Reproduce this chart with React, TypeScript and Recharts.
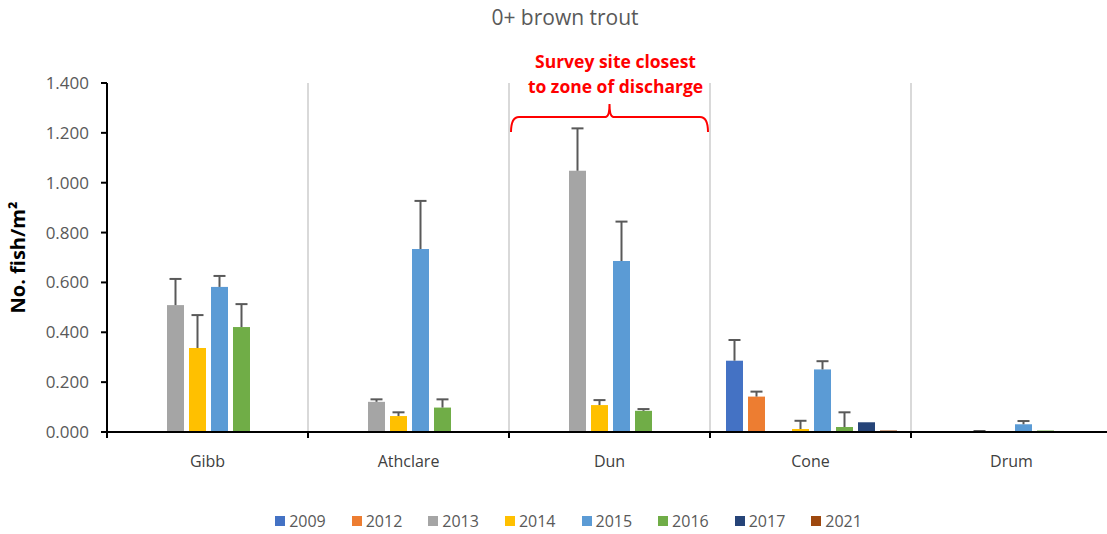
import React from 'react'
import {
  BarChart,
  Bar,
  XAxis,
  YAxis,
  ReferenceLine,
  ReferenceArea
} from 'recharts'

const sites = ['Gibb', 'Athclare', 'Dun', 'Cone', 'Drum']
const years = ['2009', '2012', '2013', '2014', '2015', '2016', '2017', '2021']
const colors = ['#4472C4', '#ED7D31', '#A5A5A5', '#FFC000', '#5B9BD5', '#70AD47', '#264478', '#9E480E']

// mean density per site, one array per survey year
const v2009 = [0, 0, 0, 0.286, 0]
const v2012 = [0, 0, 0, 0.142, 0]
const v2013 = [0.509, 0.121, 1.048, 0, 0.002]
const v2014 = [0.337, 0.064, 0.108, 0.012, 0]
const v2015 = [0.582, 0.734, 0.686, 0.251, 0.031]
const v2016 = [0.421, 0.098, 0.085, 0.02, 0.006]
const v2017 = [0, 0, 0, 0.039, 0]
const v2021 = [0, 0, 0, 0.006, 0]

// upper error (SD)
const e2009 = [0, 0, 0, 0.083, 0]
const e2012 = [0, 0, 0, 0.02, 0]
const e2013 = [0.105, 0.01, 0.17, 0, 0.002]
const e2014 = [0.132, 0.015, 0.02, 0.033, 0]
const e2015 = [0.044, 0.193, 0.158, 0.033, 0.013]
const e2016 = [0.092, 0.033, 0.007, 0.059, 0]
const e2017 = [0, 0, 0, 0, 0]
const e2021 = [0, 0, 0, 0, 0]

const yTicks = [0, 0.2, 0.4, 0.6, 0.8, 1.0, 1.2, 1.4]

const values = [v2009, v2012, v2013, v2014, v2015, v2016, v2017, v2021]
const errors = [e2009, e2012, e2013, e2014, e2015, e2016, e2017, e2021]

const data = sites.map((site, i) => {
  const row: any = { site }
  years.forEach((y, j) => {
    row[y] = values[j][i]
    row[y + '_err'] = errors[j][i]
  })
  return row
})

const FONT = '"Open Sans", "Liberation Sans", sans-serif'

const makeShape = (year: string) => (props: any) => {
  const { x, y, width, height, fill, payload, value } = props
  const v = Array.isArray(value) ? value[1] - value[0] : value
  if (!v || height <= 0) return <g />
  const err = payload[year + '_err'] || 0
  const k = height / v
  const cx = x + width / 2
  const top = y - err * k
  return (
    <g>
      <rect x={x} y={y} width={width} height={height} fill={fill} />
      {err > 0 && (
        <g stroke="#595959" strokeWidth={2}>
          <line x1={cx} y1={y} x2={cx} y2={top} />
          <line x1={cx - 6} y1={top} x2={cx + 6} y2={top} />
        </g>
      )}
    </g>
  )
}

// category label plus tick marks on the boundaries between sites
const SiteTick = (props: any) => {
  const { x, y, payload, index } = props
  const half = payload.offset || 0
  const axisY = y - 8
  return (
    <g>
      <line x1={x - half} y1={axisY} x2={x - half} y2={axisY + 6} stroke="#000" strokeWidth={2} />
      {index === sites.length - 1 && (
        <line x1={x + half} y1={axisY} x2={x + half} y2={axisY + 6} stroke="#000" strokeWidth={2} />
      )}
      <text x={x} y={y + 16} dy="0.71em" textAnchor="middle" fill="#404040" fontSize={16} fontFamily={FONT}>
        {payload.value}
      </text>
    </g>
  )
}

const Brace = (props: any) => {
  const { x: bx, y, width: bw, height } = props
  const x = bx + 2
  const width = bw - 4
  const mid = x + width / 2
  const r = 4
  const peak = height * 0.85
  const d = `M${x},${y + height} Q${x},${y} ${x + r * 2},${y} L${mid - r},${y} Q${mid},${y} ${mid},${y - peak} Q${mid},${y} ${mid + r},${y} L${x + width - r * 2},${y} Q${x + width},${y} ${x + width},${y + height}`
  return (
    <g>
      <path d={d} fill="none" stroke="#FF0000" strokeWidth={2} />
      <text x={mid + 6} y={y - 49} textAnchor="middle" fill="#FF0000" fontWeight="bold" fontSize={17.5} fontFamily={FONT}>
        Survey site closest
      </text>
      <text x={mid + 6} y={y - 24} textAnchor="middle" fill="#FF0000" fontWeight="bold" fontSize={17.5} fontFamily={FONT}>
        to zone of discharge
      </text>
    </g>
  )
}

export default function App() {
  return (
    <div style={{ position: 'absolute', left: 0, top: 0, width: 1107, height: 534, overflow: 'hidden', background: '#fff', fontFamily: FONT }}>
      <div style={{ position: 'absolute', top: 3, left: 0, width: 1130, textAlign: 'center', fontSize: 21, color: '#595959' }}>
        0+ brown trout
      </div>
      <BarChart
        width={1112}
        height={534}
        data={data}
        margin={{ top: 83, right: 0, left: 10, bottom: 72 }}
        barCategoryGap={16}
        barGap={5}
      >
        <XAxis
          dataKey="site"
          axisLine={{ stroke: '#000', strokeWidth: 2 }}
          tickLine={false}
          tickSize={6}
          tickMargin={2}
          tick={<SiteTick />}
          height={30}
        />
        <YAxis
          domain={[0, 1.4]}
          ticks={yTicks}
          tickFormatter={(v: number) => v.toFixed(3)}
          axisLine={{ stroke: '#000', strokeWidth: 2 }}
          tickLine={{ stroke: '#000', strokeWidth: 2 }}
          tickSize={6}
          tickMargin={12}
          tick={{ fill: '#595959', fontSize: 17, fontFamily: FONT }}
          width={97}
          label={{
            value: 'No. fish/m²',
            angle: -90,
            position: 'insideLeft',
            offset: 8,
            style: { textAnchor: 'middle', fontWeight: 'bold', fontSize: 20, fill: '#000', fontFamily: FONT }
          }}
        />
        {sites.slice(1).map((s) => (
          <ReferenceLine key={s} x={s} position="start" stroke="#D9D9D9" strokeWidth={2} />
        ))}
        {years.map((y, j) => (
          <Bar
            key={y}
            dataKey={y}
            fill={colors[j]}
            isAnimationActive={false}
            shape={makeShape(y)}
          />
        ))}
        <ReferenceArea
          x1="Dun"
          x2="Dun"
          y1={1.203}
          y2={1.264}
          shape={<Brace />}
        />
      </BarChart>
      <div
        style={{
          position: 'absolute',
          top: 510,
          left: 0,
          width: 1107,
          display: 'flex',
          justifyContent: 'center',
          gap: 26,
          fontSize: 16,
          color: '#595959'
        }}
      >
        {years.map((y, j) => (
          <span key={y} style={{ display: 'flex', alignItems: 'center', marginLeft: j === 0 ? 30 : 0 }}>
            <span style={{ width: 10, height: 10, background: colors[j], marginRight: 4, display: 'inline-block' }} />
            {y}
          </span>
        ))}
      </div>
    </div>
  )
}
